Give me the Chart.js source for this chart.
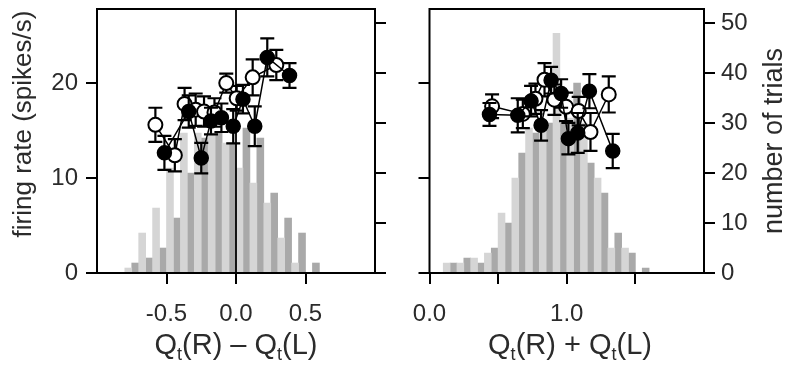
<!DOCTYPE html>
<html>
<head>
<meta charset="utf-8">
<script src="https://cdn.jsdelivr.net/npm/chart.js@4.4.1/dist/chart.umd.min.js"></script>
<style>
  html, body { margin: 0; padding: 0; background: #fff; }
  #wrap { position: relative; width: 800px; height: 370px; }
  .panel { position: absolute; top: 0; width: 400px; height: 370px; }
</style>
</head>
<body>
<div id="wrap">
  <div class="panel" style="left:0"><canvas id="diffChart" width="400" height="370"></canvas></div>
  <div class="panel" style="left:400px"><canvas id="sumChart" width="400" height="370"></canvas></div>
</div>
<script>
// ---- left panel: Qt(R) - Qt(L) ----
// histogram bins (left edge of each 0.1 bin); light = first half, dark = second half
var diffBins = [-0.8, -0.7, -0.6, -0.5, -0.4, -0.3, -0.2, -0.1, 0.0, 0.1, 0.2, 0.3, 0.4, 0.5];
var diffLight = [1, 8, 13, 21, 28, 28, 28, 26, 21, 18, 14, 7, 2, 0];
var diffDark = [2, 3, 5, 11, 20, 27, 28, 26, 29, 27, 16, 11, 8, 2];

var diffOpenX = [-0.58, -0.44, -0.37, -0.29, -0.23, -0.155, -0.07, 0.005, 0.12, 0.29];
var diffOpenY = [15.6, 12.4, 17.8, 17.2, 17.0, 16.9, 20.0, 18.4, 20.6, 21.9];
var diffOpenErr = [1.8, 1.7, 1.7, 1.7, 1.6, 1.5, 1.0, 1.3, 1.9, 1.6];

var diffFillX = [-0.515, -0.34, -0.25, -0.18, -0.105, -0.02, 0.05, 0.135, 0.225, 0.385];
var diffFillY = [12.65, 17.0, 12.1, 16.0, 16.35, 15.45, 18.3, 15.45, 22.7, 20.8];
var diffFillErr = [1.8, 1.7, 1.6, 1.4, 1.5, 1.8, 1.5, 2.1, 2.0, 1.3];

var diffXTicks = [-0.5, 0, 0.5];
var diffXLabels = ["-0.5", "0.0", "0.5"];

// ---- right panel: Qt(R) + Qt(L) ----
var sumBins = [0.1, 0.2, 0.3, 0.4, 0.5, 0.6, 0.7, 0.8, 0.9, 1.0, 1.1, 1.2, 1.3, 1.4, 1.5];
var sumLight = [2, 2, 3, 4, 12, 19, 29, 30, 48, 31, 30, 19, 5, 5, 0];
var sumDark = [2, 3, 2, 5, 10, 24, 28, 30, 30, 38, 22, 16, 8, 4, 1];

var sumOpenX = [0.456, 0.68, 0.772, 0.838, 0.91, 0.995, 1.087, 1.173, 1.306];
var sumOpenY = [17.55, 16.75, 18.35, 20.35, 18.25, 17.5, 17.05, 14.85, 18.8];
var sumOpenErr = [1.25, 1.5, 1.6, 1.75, 1.6, 1.5, 1.5, 2.0, 1.9];

var sumFillX = [0.437, 0.643, 0.74, 0.813, 0.886, 0.959, 1.012, 1.08, 1.165, 1.335];
var sumFillY = [16.7, 16.6, 18.1, 15.55, 20.3, 18.9, 14.15, 14.75, 19.15, 12.85];
var sumFillErr = [1.2, 1.8, 1.6, 1.6, 1.4, 1.5, 1.65, 2.1, 1.8, 1.8];

var sumXTicks = [0, 0.5, 1.0, 1.5];
var sumXLabels = ["0.0", "", "1.0", ""];

// shared axes
var rateTicks = [0, 10, 20];
var trialTicks = [0, 10, 20, 30, 40, 50];
var rateMax = 27.8;
var trialMax = 52.85;

var LIGHT = "#d5d5d5";
var DARK = "#a9a9a9";
var TEXT = "#2b2b2b";

Chart.defaults.font.family = "'Liberation Sans', Arial, sans-serif";
Chart.defaults.font.size = 24;
Chart.defaults.color = TEXT;

function points(xs, ys) {
  return xs.map(function (x, i) { return { x: x, y: ys[i] }; });
}

function bars(bins, counts, shift) {
  return bins.map(function (b, i) { return { x: b + shift, y: counts[i] }; });
}

function fixedTicks(values) {
  return function (scale) {
    scale.ticks = values.map(function (v) { return { value: v }; });
  };
}

function fitWidth(w) {
  return function (scale) {
    scale.width = w;
    scale.paddingTop = 0; scale.paddingBottom = 0;
    scale.paddingLeft = 0; scale.paddingRight = 0;
  };
}

function fitHeight(h) {
  return function (scale) {
    scale.height = h;
    scale.paddingTop = 0; scale.paddingBottom = 0;
    scale.paddingLeft = 0; scale.paddingRight = 0;
  };
}

var tickGrid = { offset: false, drawOnChartArea: false, drawTicks: true, tickLength: 11, color: "#000", lineWidth: 2 };

// error bars drawn just before each series so they sit under its markers
var errorBars = {
  id: "errorBars",
  beforeDatasetDraw: function (chart, args) {
    var ds = chart.data.datasets[args.index];
    if (!ds.err) return;
    var meta = args.meta;
    var yScale = chart.scales[meta.yAxisID];
    var ctx = chart.ctx;
    ctx.save();
    ctx.strokeStyle = "#000";
    ctx.lineWidth = 2.2;
    meta.data.forEach(function (pt, i) {
      var v = ds.data[i].y;
      var top = yScale.getPixelForValue(v + ds.err[i]);
      var bot = yScale.getPixelForValue(v - ds.err[i]);
      ctx.beginPath();
      ctx.moveTo(pt.x, top); ctx.lineTo(pt.x, bot);
      ctx.moveTo(pt.x - 7, top); ctx.lineTo(pt.x + 7, top);
      ctx.moveTo(pt.x - 7, bot); ctx.lineTo(pt.x + 7, bot);
      ctx.stroke();
    });
    ctx.restore();
  }
};

var frame = {
  id: "frame",
  afterDatasetsDraw: function (chart) {
    var a = chart.chartArea, ctx = chart.ctx;
    ctx.save();
    ctx.strokeStyle = "#000";
    ctx.lineWidth = 2;
    ctx.strokeRect(a.left, a.top, a.right - a.left, a.bottom - a.top);
    ctx.restore();
  }
};

// axis titles, with subscripts where needed
function drawRich(ctx, parts, cx, cy, rot, size) {
  ctx.save();
  ctx.translate(cx, cy);
  ctx.rotate(rot);
  ctx.fillStyle = TEXT;
  ctx.textBaseline = "middle";
  ctx.textAlign = "left";
  var total = 0;
  parts.forEach(function (p) {
    ctx.font = (p.sub ? Math.round(size * 0.62) : size) + "px 'Liberation Sans', Arial, sans-serif";
    p.w = ctx.measureText(p.t).width;
    total += p.w;
  });
  var x = -total / 2;
  parts.forEach(function (p) {
    ctx.font = (p.sub ? Math.round(size * 0.62) : size) + "px 'Liberation Sans', Arial, sans-serif";
    ctx.fillText(p.t, x, p.sub ? size * 0.32 : 0);
    x += p.w;
  });
  ctx.restore();
}

var titles = {
  id: "titles",
  afterDraw: function (chart, args, opts) {
    (opts.items || []).forEach(function (it) {
      drawRich(chart.ctx, it.parts, it.x, it.y, it.rot || 0, it.size);
    });
  }
};

function makeChart(canvasId, cfg) {
  var datasets = [
    {
      type: "bar", label: "light", data: bars(cfg.bins, cfg.light, 0.025), yAxisID: "y2",
      backgroundColor: LIGHT, grouped: false, barPercentage: 1, categoryPercentage: 1, order: 5
    },
    {
      type: "bar", label: "dark", data: bars(cfg.bins, cfg.dark, 0.075), yAxisID: "y2",
      backgroundColor: DARK, grouped: false, barPercentage: 1, categoryPercentage: 1, order: 5
    },
    {
      type: "line", label: "open", data: points(cfg.openX, cfg.openY), err: cfg.openErr, yAxisID: "y",
      borderColor: "#000", borderWidth: 1.5, pointRadius: 7, pointBorderWidth: 2,
      pointBackgroundColor: "#fff", pointBorderColor: "#000", order: 2
    },
    {
      type: "line", label: "filled", data: points(cfg.fillX, cfg.fillY), err: cfg.fillErr, yAxisID: "y",
      borderColor: "#000", borderWidth: 1.5, pointRadius: 7, pointBorderWidth: 1.5,
      pointBackgroundColor: "#000", pointBorderColor: "#000", order: 1
    }
  ];
  if (cfg.zeroLine) {
    datasets.push({
      type: "line", label: "zero", data: [{ x: 0, y: 0 }, { x: 0, y: rateMax }], yAxisID: "y",
      borderColor: "#000", borderWidth: 1.8, pointRadius: 0, order: 4
    });
  }

  return new Chart(document.getElementById(canvasId), {
    type: "scatter",
    data: { datasets: datasets },
    options: {
      responsive: false,
      animation: false,
      layout: { padding: { top: 8, left: 0, right: 0, bottom: 0 } },
      plugins: {
        legend: { display: false },
        tooltip: { enabled: false },
        titles: { items: cfg.titles }
      },
      scales: {
        x: {
          type: "linear", min: cfg.xMin, max: cfg.xMax, offset: false,
          afterBuildTicks: fixedTicks(cfg.xTicks),
          afterFit: fitHeight(97),
          ticks: {
            autoSkip: false, maxRotation: 0, padding: 16,
            callback: function (v, i) { return cfg.xLabels[i]; }
          },
          grid: tickGrid,
          border: { display: false }
        },
        y: {
          type: "linear", position: "left", min: 0, max: rateMax,
          afterBuildTicks: fixedTicks(rateTicks),
          afterFit: fitWidth(cfg.leftW),
          ticks: {
            padding: 8,
            callback: function (v) { return cfg.leftLabels ? String(v) : ""; }
          },
          grid: tickGrid,
          border: { display: false }
        },
        y2: {
          type: "linear", position: "right", min: 0, max: trialMax,
          afterBuildTicks: fixedTicks(trialTicks),
          afterFit: fitWidth(cfg.rightW),
          ticks: {
            padding: 6,
            callback: function (v) { return cfg.rightLabels ? String(v) : ""; }
          },
          grid: tickGrid,
          border: { display: false }
        }
      }
    },
    plugins: [errorBars, frame, titles]
  });
}

makeChart("diffChart", {
  bins: diffBins, light: diffLight, dark: diffDark,
  openX: diffOpenX, openY: diffOpenY, openErr: diffOpenErr,
  fillX: diffFillX, fillY: diffFillY, fillErr: diffFillErr,
  xMin: -1, xMax: 1, xTicks: diffXTicks, xLabels: diffXLabels,
  leftW: 97, rightW: 25, leftLabels: true, rightLabels: false, zeroLine: true,
  titles: [
    { parts: [{ t: "firing rate (spikes/s)" }], x: 24, y: 124, rot: -Math.PI / 2, size: 26 },
    { parts: [{ t: "Q" }, { t: "t", sub: true }, { t: "(R) \u2013 Q" }, { t: "t", sub: true }, { t: "(L)" }], x: 236, y: 346, size: 29 }
  ]
});

makeChart("sumChart", {
  bins: sumBins, light: sumLight, dark: sumDark,
  openX: sumOpenX, openY: sumOpenY, openErr: sumOpenErr,
  fillX: sumFillX, fillY: sumFillY, fillErr: sumFillErr,
  xMin: 0, xMax: 2, xTicks: sumXTicks, xLabels: sumXLabels,
  leftW: 29.5, rightW: 96, leftLabels: false, rightLabels: true, zeroLine: false,
  titles: [
    { parts: [{ t: "Q" }, { t: "t", sub: true }, { t: "(R) + Q" }, { t: "t", sub: true }, { t: "(L)" }], x: 170, y: 346, size: 29 },
    { parts: [{ t: "number of trials" }], x: 375, y: 141, rot: -Math.PI / 2, size: 27 }
  ]
});
</script>
</body>
</html>
